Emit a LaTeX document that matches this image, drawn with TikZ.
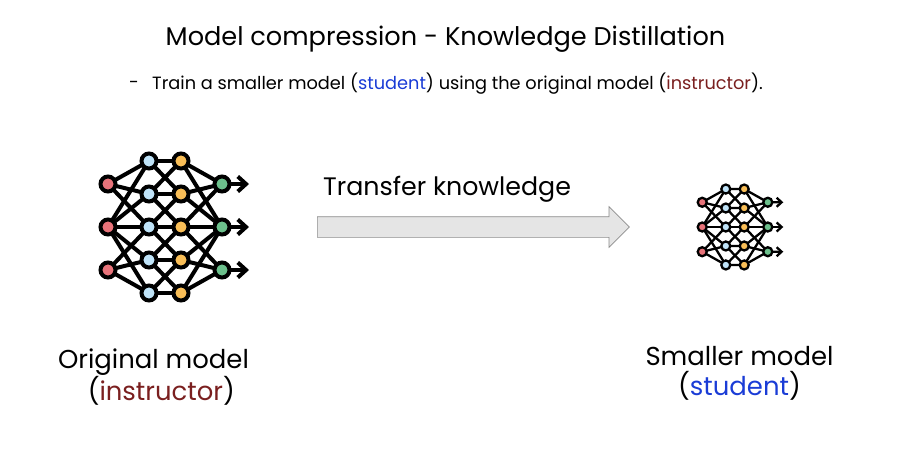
\documentclass[tikz,border=0pt]{standalone}
\usepackage{fontspec}
\setmainfont{Poppins}
\usetikzlibrary{arrows.meta,shapes.arrows,backgrounds}
\definecolor{instructorred}{HTML}{7A1F1F}
\definecolor{studentblue}{HTML}{1A3CD6}
\definecolor{inred}{HTML}{E8737A}
\definecolor{hidblue}{HTML}{BFE3F8}
\definecolor{hidyellow}{HTML}{F9BE57}
\definecolor{outgreen}{HTML}{6CC08C}
\tikzset{
  caption/.style = {font=\fontsize{25.9}{30}\selectfont, align=center, inner sep=0pt},
  neuron/.style = {shape=circle, draw=black, inner sep=0pt, outer sep=0pt}
}
% one network: prefix, centre x, centre y, scale, line width, neuron size
\newcommand{\drawnet}[6]{
  \begin{scope}[shift={(#2,#3)}, xscale=#4, yscale=#4, every path/.append style={line width=#5},
      every node/.append style={minimum size=#6}]
    \foreach \i/\y in {1/-43,2/0,3/43} {
      \node[neuron, fill=inred] (#1-in\i) at (-57,\y) {};
      \node[neuron, fill=outgreen] (#1-out\i) at (57,\y) {};
      \coordinate (#1-end\i) at (84,\y);
    }
    \foreach \i/\y in {1/-66,2/-33,3/0,4/33,5/66} {
      \node[neuron, fill=hidblue] (#1-a\i) at (-16,\y) {};
      \node[neuron, fill=hidyellow] (#1-b\i) at (16,\y) {};
    }
    \begin{pgfonlayer}{background}
      % left and right fans
      \foreach \i/\j in {1/1,1/2,1/3,2/1,2/2,2/3,2/4,2/5,3/3,3/4,3/5} {
        \draw (#1-in\i) -- (#1-a\j);
        \draw (#1-b\j) -- (#1-out\i);
      }
      % between the two hidden columns
      \foreach \i/\j in {1/1,1/2,2/1,2/2,2/3,3/2,3/3,3/4,4/3,4/4,4/5,5/4,5/5} {
        \draw (#1-a\i) -- (#1-b\j);
      }
    \end{pgfonlayer}
    \foreach \i in {1,2,3} {
      \draw[-{Straight Barb[length=#6*0.55,width=#6*1.0]}] (#1-out\i) -- (#1-end\i);
    }
  \end{scope}
}
\begin{document}
\begin{tikzpicture}[x=1pt, y=-1pt]
  \useasboundingbox (0,0) rectangle (907,461);

  \node[inner sep=0pt, font=\fontsize{25.6}{30}\selectfont] (title) at (445.5,39.5) {Model compression - Knowledge Distillation};
  \node[inner sep=0pt, anchor=west, font=\fontsize{17.7}{22}\selectfont] (dash) at (129,85) {-};
  \node[inner sep=0pt, anchor=west, font=\fontsize{17.75}{22}\selectfont] (subtitle) at (152,84) {Train a smaller model (\textcolor{studentblue}{student}) using the original model (\textcolor{instructorred}{instructor}).};

  \drawnet{big}{165}{227}{1}{4pt}{15pt}
  \drawnet{small}{735}{227}{0.575}{2.3pt}{9pt}

  \node[single arrow, draw=black!45, fill=black!10, line width=0.7pt, inner sep=0pt, inner ysep=10pt,
    minimum height=312pt, minimum width=40pt, single arrow head extend=10pt,
    single arrow tip angle=90, anchor=tail] (transfer) at (317,227) {};
  \node[inner sep=0pt, font=\fontsize{25.3}{30}\selectfont, anchor=base west] (transferlabel) at (323,195) {Transfer knowledge};

  \node[caption] (original) at (153.5,377) {Original model\\\hspace*{0.6em}(\textcolor{instructorred}{instructor})};
  \node[caption] (smaller) at (739.5,373) {Smaller model\\(\textcolor{studentblue}{student})};
\end{tikzpicture}
\end{document}
